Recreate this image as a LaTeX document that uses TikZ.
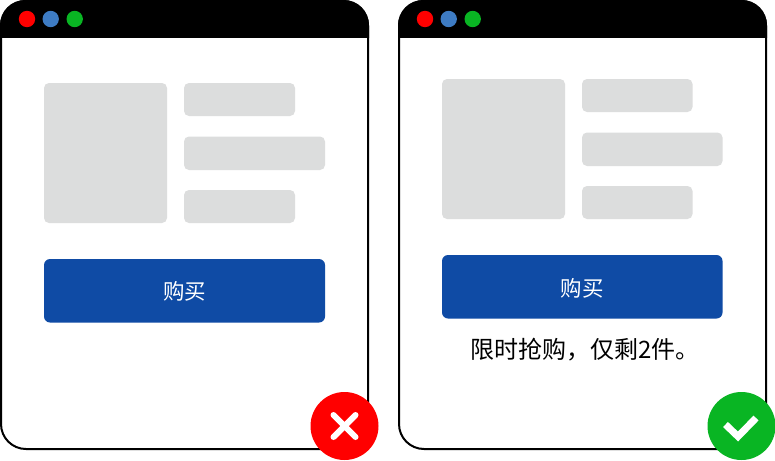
\documentclass[tikz,border=0pt]{standalone}
\usepackage{fontspec}
\newfontfamily\cjk{Noto Sans CJK SC}
\definecolor{ph}{HTML}{DCDDDD}
\definecolor{btn}{HTML}{0F4BA5}
\definecolor{dotr}{HTML}{FF0000}
\definecolor{dotb}{HTML}{3E7CC4}
\definecolor{dotg}{HTML}{09B523}
\tikzset{
 x=1pt,y=-1pt,
 frame/.style={draw=black,line width=2pt,fill=white,rounded corners=25pt},
 bar/.style={fill=black},
 holder/.style={fill=ph,rounded corners=5pt},
 buybtn/.style={fill=btn,rounded corners=6pt},
 lbl/.style={inner sep=0pt,font=\cjk\fontsize{21.500}{24}\selectfont},
 notelbl/.style={inner sep=0pt,font=\cjk\fontsize{24}{28}\selectfont},
 mark stroke/.style={draw=white,line width=6pt,line cap=round},
}
\newcommand{\winframe}[1]{%
 \begin{scope}[xshift=#1pt]
  \draw[frame] (1,1) rectangle (368,449);
  \begin{scope}
   \clip (0,0) rectangle (369.5,37.500);
   \fill[bar,rounded corners=25pt] (0,0) rectangle (369,120);
  \end{scope}
  \fill[dotr] (27,19) circle (8.2);
  \fill[dotb] (50.7,19) circle (8.2);
  \fill[dotg] (74.7,19) circle (8.2);
 \end{scope}}
\begin{document}
\begin{tikzpicture}
\useasboundingbox (0,0) rectangle (775,460);
\fill[white] (0,0) rectangle (775,460);
% left window
\winframe{0}
\fill[holder] (44,83) rectangle (167,223);
\fill[holder] (184,83) rectangle (295,116);
\fill[holder] (184,136.500) rectangle (325,170);
\fill[holder] (184,190) rectangle (295,223);
\fill[buybtn] (44,259) rectangle (325,322.500);
\node[lbl,text=white] (buyL) at (184.500,291.500) {购买};
\fill[dotr] (344.500,426) circle (34);
\draw[mark stroke] (333.500,415) -- (355.500,437);
\draw[mark stroke] (355.500,415) -- (333.500,437);
% right window
\winframe{398}
\fill[holder] (442,79) rectangle (565,219);
\fill[holder] (582,79) rectangle (692.500,112);
\fill[holder] (582,132.500) rectangle (722.500,166);
\fill[holder] (582,186) rectangle (692.500,219);
\fill[buybtn] (442,255) rectangle (722.500,318.500);
\node[lbl,text=white] (buyR) at (582,288.500) {购买};
\node[notelbl,text=black] (note) at (585,350) {限时抢购，仅剩2件。};
\fill[dotg] (741.500,426) circle (34);
\draw[white,line width=7pt,line join=miter] (725.500,424.500) -- (738,436.500) -- (756,418);
\end{tikzpicture}
\end{document}
